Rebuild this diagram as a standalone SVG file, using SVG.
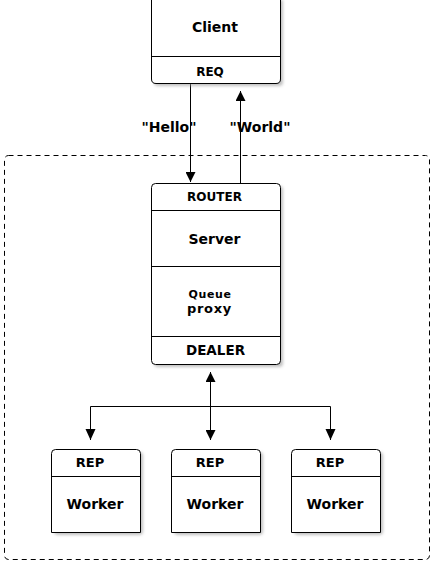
<svg xmlns="http://www.w3.org/2000/svg" width="431" height="561" viewBox="0 0 431 561">
<defs>
<marker id="ah" viewBox="0 0 10 10" refX="10" refY="5" markerWidth="10" markerHeight="10" markerUnits="userSpaceOnUse" orient="auto-start-reverse">
<path d="M0,0 L10,5 L0,10 z" fill="#000"/>
</marker>
<filter id="sh" x="-10%" y="-10%" width="130%" height="130%">
<feGaussianBlur stdDeviation="1.5"/>
</filter>
</defs>
<style>
.box{fill:#fff;stroke:#000;stroke-width:1}
.shadow{fill:#999;opacity:0.6;filter:url(#sh)}
.ln{stroke:#000;stroke-width:1;fill:none}
text{font-family:"DejaVu Sans",sans-serif;fill:#000;text-anchor:middle;font-weight:bold}
.t14{font-size:14px}
.t12{font-size:12px}
.t13{font-size:13px}
.t135{font-size:13.5px}
</style>
<rect x="4.5" y="155.5" width="425" height="404" rx="4" fill="none" stroke="#000" stroke-dasharray="5,4"/>
<g id="connectors">
<line class="ln" x1="190.5" y1="83" x2="190.5" y2="182" marker-end="url(#ah)"/>
<line class="ln" x1="240.5" y1="183" x2="240.5" y2="91" marker-end="url(#ah)"/>
<line class="ln" x1="210.5" y1="372" x2="210.5" y2="440" marker-start="url(#ah)" marker-end="url(#ah)"/>
<polyline class="ln" points="90.5,440 90.5,406.5 330.5,406.5 330.5,440"/>
<path d="M85.5,429 L90.5,440 L95.5,429 z M325.5,429 L330.5,440 L335.5,429 z" fill="#000"/>
<text class="t14" x="169" y="132">"Hello"</text>
<text class="t14" x="260" y="132">"World"</text>
</g>
<g id="client">
<path class="shadow" d="M154,0 H283 V82 Q283,86 279,86 H158 Q154,86 154,82 Z"/>
<path class="box" d="M151.5,-1 H280.5 V79 Q280.5,83.5 276,83.5 H156 Q151.5,83.5 151.5,79 Z"/>
<line class="ln" x1="151.5" y1="56.5" x2="280.5" y2="56.5"/>
<text class="t14" x="215" y="32">Client</text>
<text class="t12" x="210" y="75.5">REQ</text>
</g>
<g id="server">
<rect class="shadow" x="154" y="186" width="129" height="181" rx="4"/>
<rect class="box" x="151.5" y="183.5" width="129" height="181" rx="4"/>
<line class="ln" x1="151.5" y1="210.5" x2="280.5" y2="210.5"/>
<line class="ln" x1="151.5" y1="266.5" x2="280.5" y2="266.5"/>
<line class="ln" x1="151.5" y1="336.5" x2="280.5" y2="336.5"/>
<text class="t12" x="214.5" y="201">ROUTER</text>
<text class="t14" x="214.5" y="244">Server</text>
<text x="210" y="297.5" style="font-size:11px;letter-spacing:0.6px">Queue</text>
<text x="209.5" y="313" style="font-size:13px;letter-spacing:0.7px">proxy</text>
<text class="t135" x="215.5" y="355">DEALER</text>
</g>
<g id="worker1">
<rect class="shadow" x="54" y="452" width="89" height="83" rx="4"/>
<path class="box" d="M51.5,532.5 V453.5 Q51.5,449.5 55.5,449.5 H136.5 Q140.5,449.5 140.5,453.5 V532.5 Z"/>
<line class="ln" x1="51.5" y1="476.5" x2="140.5" y2="476.5"/>
<text class="t13" x="90" y="467">REP</text>
<text class="t14" x="95" y="509">Worker</text>
</g>
<g id="worker2">
<rect class="shadow" x="174" y="452" width="89" height="83" rx="4"/>
<path class="box" d="M171.5,532.5 V453.5 Q171.5,449.5 175.5,449.5 H256.5 Q260.5,449.5 260.5,453.5 V532.5 Z"/>
<line class="ln" x1="171.5" y1="476.5" x2="260.5" y2="476.5"/>
<text class="t13" x="210" y="467">REP</text>
<text class="t14" x="215" y="509">Worker</text>
</g>
<g id="worker3">
<rect class="shadow" x="294" y="452" width="89" height="83" rx="4"/>
<path class="box" d="M291.5,532.5 V453.5 Q291.5,449.5 295.5,449.5 H376.5 Q380.5,449.5 380.5,453.5 V532.5 Z"/>
<line class="ln" x1="291.5" y1="476.5" x2="380.5" y2="476.5"/>
<text class="t13" x="330" y="467">REP</text>
<text class="t14" x="335" y="509">Worker</text>
</g>
</svg>
